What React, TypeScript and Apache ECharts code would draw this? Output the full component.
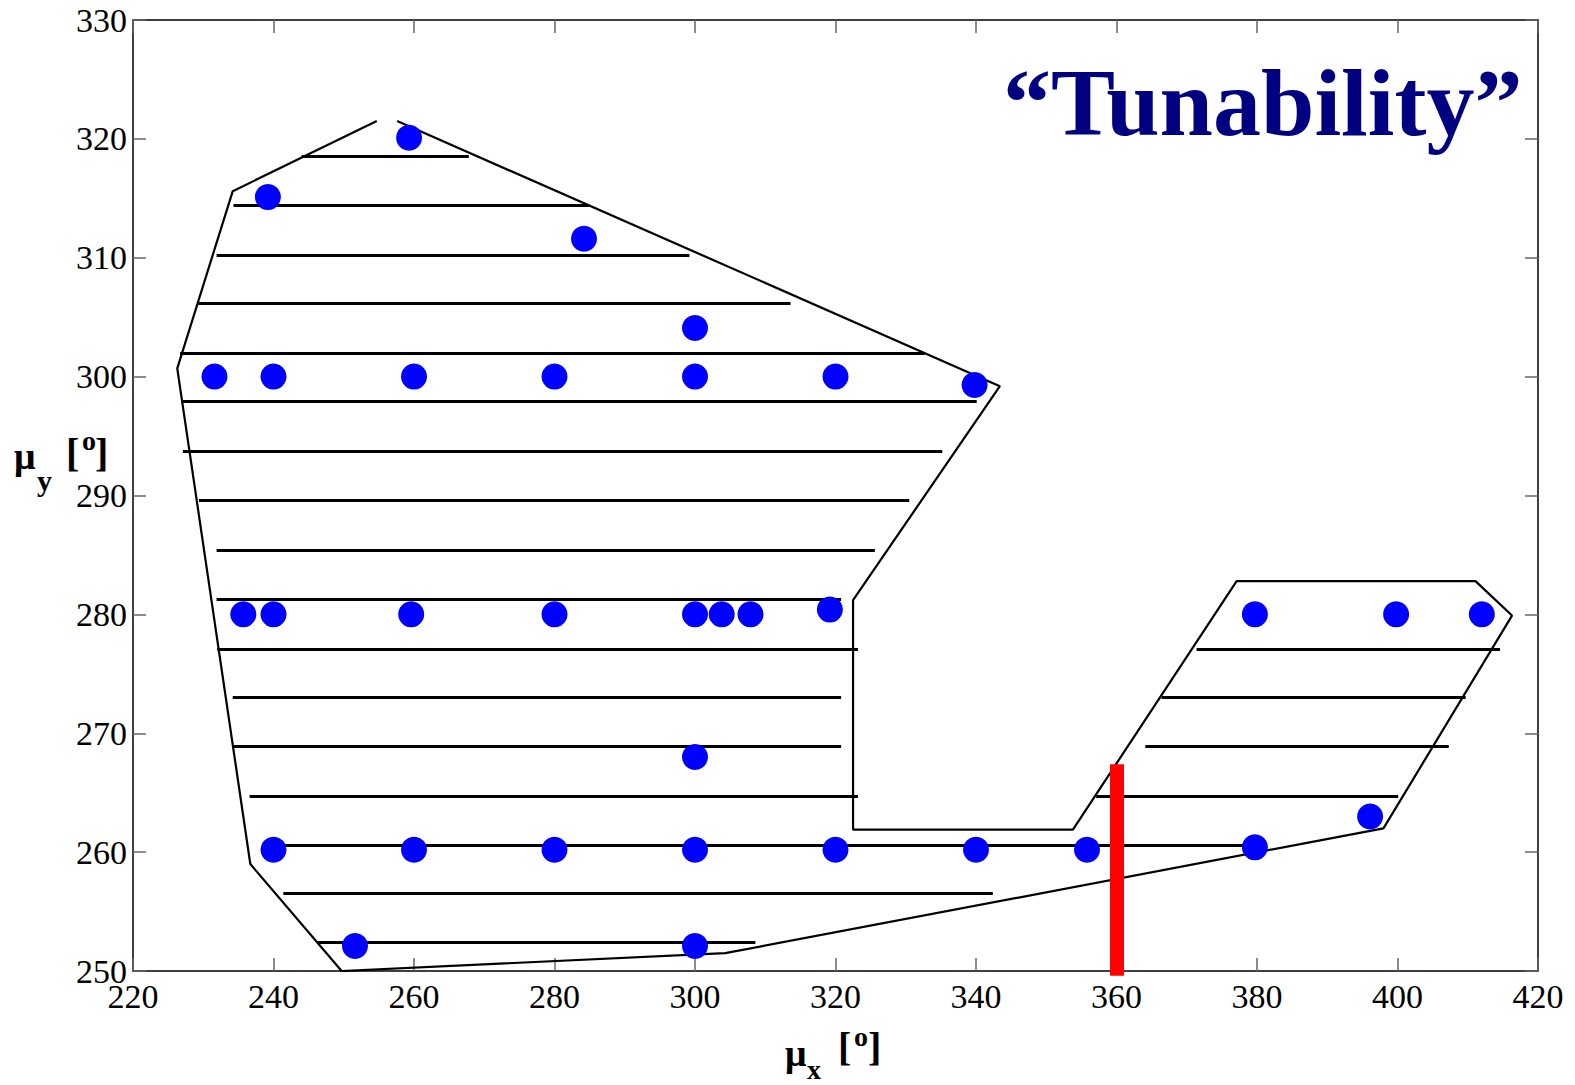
import React, { useEffect, useRef } from "react";
import * as echarts from "echarts";

// Blue measured points [mu_x, mu_y]
const pointsX = [259.3, 239.2, 284.2, 300, 231.6, 240, 260, 280, 300, 320, 339.8, 235.7, 240, 259.6, 280, 300, 303.8, 307.9, 319.2, 379.7, 399.8, 412, 300, 240, 260, 280, 300, 320, 340, 355.8, 379.7, 396.1, 251.6, 300];
const pointsY = [320.1, 315.1, 311.6, 304.1, 300, 300, 300, 300, 300, 300, 299.3, 280, 280, 280, 280, 280, 280, 280, 280.4, 280, 280, 280, 268.0, 260.2, 260.2, 260.2, 260.2, 260.2, 260.2, 260.2, 260.4, 263.0, 252.1, 252.1];

// Hatching segments: y level, start x, end x
const hatchY = [318.5, 314.4, 310.2, 306.2, 302.0, 297.9, 293.7, 289.6, 285.4, 281.3, 277.1, 273.0, 268.9, 264.7, 260.6, 256.5, 252.4, 277.1, 273.0, 268.9, 264.7];
const hatchX1 = [244.0, 234.3, 231.9, 229.3, 226.7, 227.1, 227.1, 229.4, 231.9, 231.9, 232.0, 234.2, 234.3, 236.6, 238.9, 241.4, 246.3, 371.4, 366.4, 364.1, 357.1];
const hatchX2 = [267.8, 284.9, 299.2, 313.6, 332.7, 340.1, 335.2, 330.5, 325.6, 320.8, 323.2, 320.8, 320.8, 323.2, 380.9, 342.4, 308.6, 414.6, 409.7, 407.3, 400.1];

// Boundary outline (open polyline)
const outlineX = [257.6, 343.4, 322.5, 322.5, 353.8, 377.1, 411.1, 416.3, 398.0, 304.3, 249.7, 236.7, 226.3, 234.2, 254.7];
const outlineY = [321.5, 299.2, 281.2, 261.9, 261.9, 282.8, 282.8, 279.9, 262.0, 251.5, 250.0, 259.0, 300.7, 315.6, 321.5];

// Red marker
const redX = [360, 360];
const redY = [249.6, 267.4];

const xTicks = { min: 220, max: 420, interval: 20 };
const yTicks = { min: 250, max: 330, interval: 10 };

const FONT = "Liberation Serif, Times New Roman, serif";

export default function App() {
  const ref = useRef<HTMLDivElement>(null);
  useEffect(() => {
    document.body.style.margin = "0";
    const chart = echarts.init(ref.current!, null, { renderer: "svg" });
    const axisCommon = {
      type: "value" as const,
      axisLine: { show: true, onZero: false, lineStyle: { color: "#000", width: 1.5 } },
      axisTick: { show: true, inside: true, length: 13, lineStyle: { color: "#666", width: 1.5 } },
      splitLine: { show: false },
    };
    const labelStyle = { color: "#000", fontSize: 34, fontFamily: FONT };
    const txt = (text: string, x: number, y: number, size: number, bold = true, color = "#000", align = "left") => ({
      type: "text",
      x,
      y,
      style: { text, fontSize: size, fontFamily: FONT, fontWeight: bold ? "bold" : "normal", fill: color, align, verticalAlign: "middle" },
      z: 100,
    });
    chart.setOption({
      animation: false,
      backgroundColor: "#fff",
      grid: { left: 133, right: 37, top: 20, bottom: 114, containLabel: false },
      xAxis: [
        { ...axisCommon, ...xTicks, position: "bottom", axisLabel: { ...labelStyle, margin: 8 } },
        { ...axisCommon, ...xTicks, position: "top", axisLabel: { show: false } },
      ],
      yAxis: [
        { ...axisCommon, ...yTicks, position: "left", axisLabel: { ...labelStyle, margin: 6 } },
        { ...axisCommon, ...yTicks, position: "right", axisLabel: { show: false } },
      ],
      series: [
        {
          type: "lines",
          coordinateSystem: "cartesian2d",
          polyline: false,
          silent: true,
          z: 2,
          lineStyle: { color: "#000", width: 3, opacity: 1 },
          data: hatchY.map((y, i) => ({ coords: [[hatchX1[i], y], [hatchX2[i], y]] })),
        },
        {
          type: "line",
          z: 3,
          symbol: "none",
          silent: true,
          lineStyle: { color: "#000", width: 2.2 },
          data: outlineX.map((x, i) => [x, outlineY[i]]),
        },
        {
          type: "lines",
          coordinateSystem: "cartesian2d",
          silent: true,
          clip: false,
          z: 4,
          lineStyle: { color: "#ff0000", width: 14, opacity: 1, cap: "butt" },
          data: [{ coords: [[redX[0], redY[0]], [redX[1], redY[1]]] }],
        },
        {
          type: "scatter",
          z: 5,
          symbol: "circle",
          symbolSize: 26,
          itemStyle: { color: "#0000ff", opacity: 1 },
          data: pointsX.map((x, i) => [x, pointsY[i]]),
        },
      ],
      graphic: [
        txt("\u201CTunability\u201D", 1003, 102, 96, true, "#000080"),
        // y axis name: mu_y [o]
        txt("\u03BC", 14, 456, 38),
        txt("y", 37, 480, 30),
        txt("[", 66, 452, 40),
        txt("o", 82, 440, 28),
        txt("]", 95, 452, 40),
        // x axis name: mu_x [o]
        txt("\u03BC", 785, 1053, 38),
        txt("x", 807, 1069, 28),
        txt("[", 838, 1046, 40),
        txt("o", 854, 1036, 28),
        txt("]", 868, 1046, 40),
      ],
    });
    return () => chart.dispose();
  }, []);
  return <div ref={ref} style={{ width: 1575, height: 1085 }} />;
}
